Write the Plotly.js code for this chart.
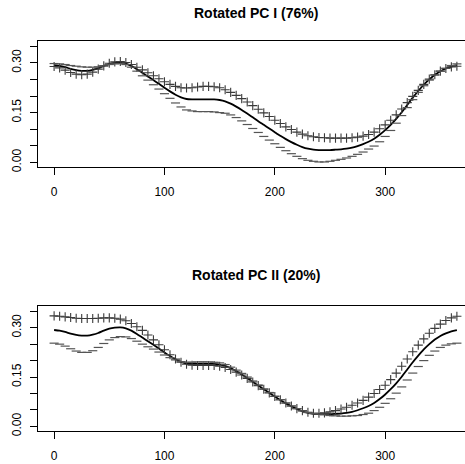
<!DOCTYPE html>
<html>
<head>
<meta charset="utf-8">
<script src="https://cdn.plot.ly/plotly-3.0.1.min.js"></script>
<style>
html,body{margin:0;padding:0;overflow:hidden;background:#fff;width:465px;height:464px;}
#chart{width:490px;height:464px;}
</style>
</head>
<body>
<div id="chart"></div>
<script>
// Day of year
const days = [0,5,10,15,20,25,30,35,40,45,50,55,60,65,70,75,80,85,90,95,100,105,110,115,120,125,130,135,140,145,150,155,160,165,170,175,180,185,190,195,200,205,210,215,220,225,230,235,240,245,250,255,260,265,270,275,280,285,290,295,300,305,310,315,320,325,330,335,340,345,350,355,360,365];

// Mean curve
const meanCurve = [0.293,0.291,0.287,0.282,0.278,0.276,0.276,0.279,0.284,0.291,0.297,0.300,0.301,0.298,0.291,0.281,0.270,0.259,0.248,0.237,0.225,0.214,0.204,0.196,0.191,0.190,0.190,0.190,0.190,0.190,0.188,0.184,0.177,0.168,0.158,0.147,0.136,0.124,0.113,0.102,0.091,0.080,0.070,0.061,0.053,0.046,0.041,0.038,0.037,0.037,0.037,0.038,0.039,0.041,0.044,0.049,0.055,0.062,0.071,0.083,0.097,0.113,0.131,0.151,0.173,0.195,0.215,0.234,0.250,0.264,0.275,0.283,0.289,0.293];

// Rotated PC I: mean + / mean -
const pc1Plus = [0.289,0.285,0.278,0.271,0.266,0.264,0.266,0.272,0.281,0.291,0.299,0.303,0.304,0.301,0.295,0.287,0.279,0.270,0.261,0.252,0.243,0.235,0.229,0.225,0.224,0.225,0.227,0.229,0.229,0.228,0.225,0.219,0.211,0.202,0.192,0.182,0.171,0.160,0.149,0.138,0.127,0.117,0.107,0.099,0.091,0.085,0.080,0.077,0.075,0.074,0.073,0.073,0.073,0.073,0.074,0.076,0.079,0.084,0.091,0.101,0.113,0.127,0.143,0.161,0.180,0.199,0.217,0.235,0.251,0.264,0.275,0.283,0.288,0.290];
const pc1Minus = [0.298,0.297,0.295,0.292,0.290,0.288,0.287,0.287,0.288,0.291,0.295,0.297,0.298,0.295,0.287,0.275,0.261,0.248,0.234,0.221,0.207,0.193,0.179,0.167,0.158,0.155,0.153,0.153,0.153,0.152,0.150,0.148,0.143,0.135,0.125,0.114,0.102,0.090,0.078,0.067,0.056,0.045,0.035,0.026,0.018,0.011,0.006,0.003,0.001,0.001,0.003,0.006,0.009,0.013,0.018,0.024,0.031,0.040,0.049,0.062,0.078,0.096,0.118,0.141,0.165,0.189,0.211,0.231,0.248,0.263,0.275,0.284,0.292,0.297];

// Rotated PC II: mean + / mean -
const pc2Plus = [0.336,0.335,0.333,0.331,0.329,0.328,0.328,0.328,0.329,0.330,0.330,0.329,0.326,0.321,0.313,0.303,0.292,0.278,0.263,0.248,0.233,0.218,0.205,0.195,0.189,0.186,0.185,0.185,0.185,0.185,0.183,0.179,0.173,0.165,0.156,0.146,0.135,0.124,0.113,0.102,0.091,0.081,0.071,0.062,0.054,0.048,0.043,0.040,0.040,0.041,0.044,0.048,0.053,0.058,0.064,0.071,0.079,0.089,0.100,0.112,0.125,0.142,0.162,0.183,0.205,0.227,0.247,0.266,0.283,0.298,0.311,0.322,0.330,0.335];
const pc2Minus = [0.253,0.250,0.244,0.236,0.229,0.225,0.225,0.230,0.240,0.252,0.263,0.270,0.273,0.272,0.267,0.259,0.250,0.242,0.235,0.226,0.217,0.209,0.202,0.197,0.195,0.195,0.196,0.196,0.196,0.195,0.193,0.188,0.180,0.171,0.161,0.150,0.138,0.126,0.114,0.103,0.092,0.081,0.071,0.062,0.054,0.047,0.042,0.039,0.037,0.035,0.033,0.032,0.031,0.031,0.032,0.033,0.036,0.040,0.048,0.058,0.070,0.084,0.101,0.120,0.141,0.162,0.182,0.200,0.216,0.229,0.240,0.247,0.251,0.253];

const titles = ["Rotated PC I (76%)", "Rotated PC II (20%)"];
const xTicks = [0,100,200,300];
const yTickVals = [0,0.05,0.10,0.15,0.20,0.25,0.30,0.35];
const yTickText = ["0.00","","","0.15","","","0.30",""];

const FONT = "Liberation Sans, Arial, Helvetica, sans-serif";

function meanTrace(xa, ya){
  return {x: days, y: meanCurve, xaxis: xa, yaxis: ya, mode: 'lines',
    line: {color: '#000', width: 1.8, shape: 'spline', smoothing: 0.6}, hoverinfo: 'skip'};
}
function plusTrace(vals, xa, ya){
  return {x: days, y: vals, xaxis: xa, yaxis: ya, mode: 'markers',
    marker: {symbol: 'cross-thin-open', size: 6.5, color: '#3a3a3a', line: {color: '#3a3a3a', width: 1.1}}, hoverinfo: 'skip'};
}
function minusTrace(vals, xa, ya){
  return {x: days, y: vals, xaxis: xa, yaxis: ya, mode: 'markers',
    marker: {symbol: 'line-ew-open', size: 6.5, color: '#555', line: {color: '#555', width: 1.2}}, hoverinfo: 'skip'};
}

const data = [
  meanTrace('x','y'), plusTrace(pc1Plus,'x','y'), minusTrace(pc1Minus,'x','y'),
  meanTrace('x2','y2'), plusTrace(pc2Plus,'x2','y2'), minusTrace(pc2Minus,'x2','y2')
];

function xAxis(anchor){
  return {anchor: anchor, range: [-14.6, 379.6], tickvals: xTicks, ticks: 'outside', ticklen: 7,
    tickcolor: '#000', tickwidth: 1, showgrid: false, zeroline: false, showline: true, mirror: true,
    linecolor: '#000', linewidth: 1, ticklabelstandoff: 7,
    tickfont: {family: FONT, size: 12, color: '#000'}};
}
function yAxis(anchor, domain){
  return {anchor: anchor, domain: domain, range: [-0.0141, 0.366], tickvals: yTickVals, ticktext: yTickText,
    ticks: 'outside', ticklen: 7, tickcolor: '#000', tickwidth: 1, tickangle: -90,
    showgrid: false, zeroline: false, showline: true, mirror: true, linecolor: '#000', linewidth: 1,
    ticklabelstandoff: 4, tickfont: {family: FONT, size: 12, color: '#000'}};
}

const layout = {
  width: 490, height: 464,
  margin: {l: 38, r: 17, t: 41, b: 33},
  paper_bgcolor: '#fff', plot_bgcolor: '#fff',
  showlegend: false,
  xaxis: xAxis('y'),
  yaxis: yAxis('x', [0.677, 1]),
  xaxis2: xAxis('y2'),
  yaxis2: yAxis('x2', [0, 0.3205]),
  annotations: [
    {text: titles[0], xref: 'paper', yref: 'paper', x: 0.5, y: 1.0726, xanchor: 'center', yanchor: 'middle',
     showarrow: false, font: {family: FONT, size: 14, color: '#000', weight: 'bold'}},
    {text: titles[1], xref: 'paper', yref: 'paper', x: 0.5, y: 0.4, xanchor: 'center', yanchor: 'middle',
     showarrow: false, font: {family: FONT, size: 14, color: '#000', weight: 'bold'}}
  ]
};

Plotly.newPlot('chart', data, layout, {staticPlot: true, displayModeBar: false});
</script>
</body>
</html>
